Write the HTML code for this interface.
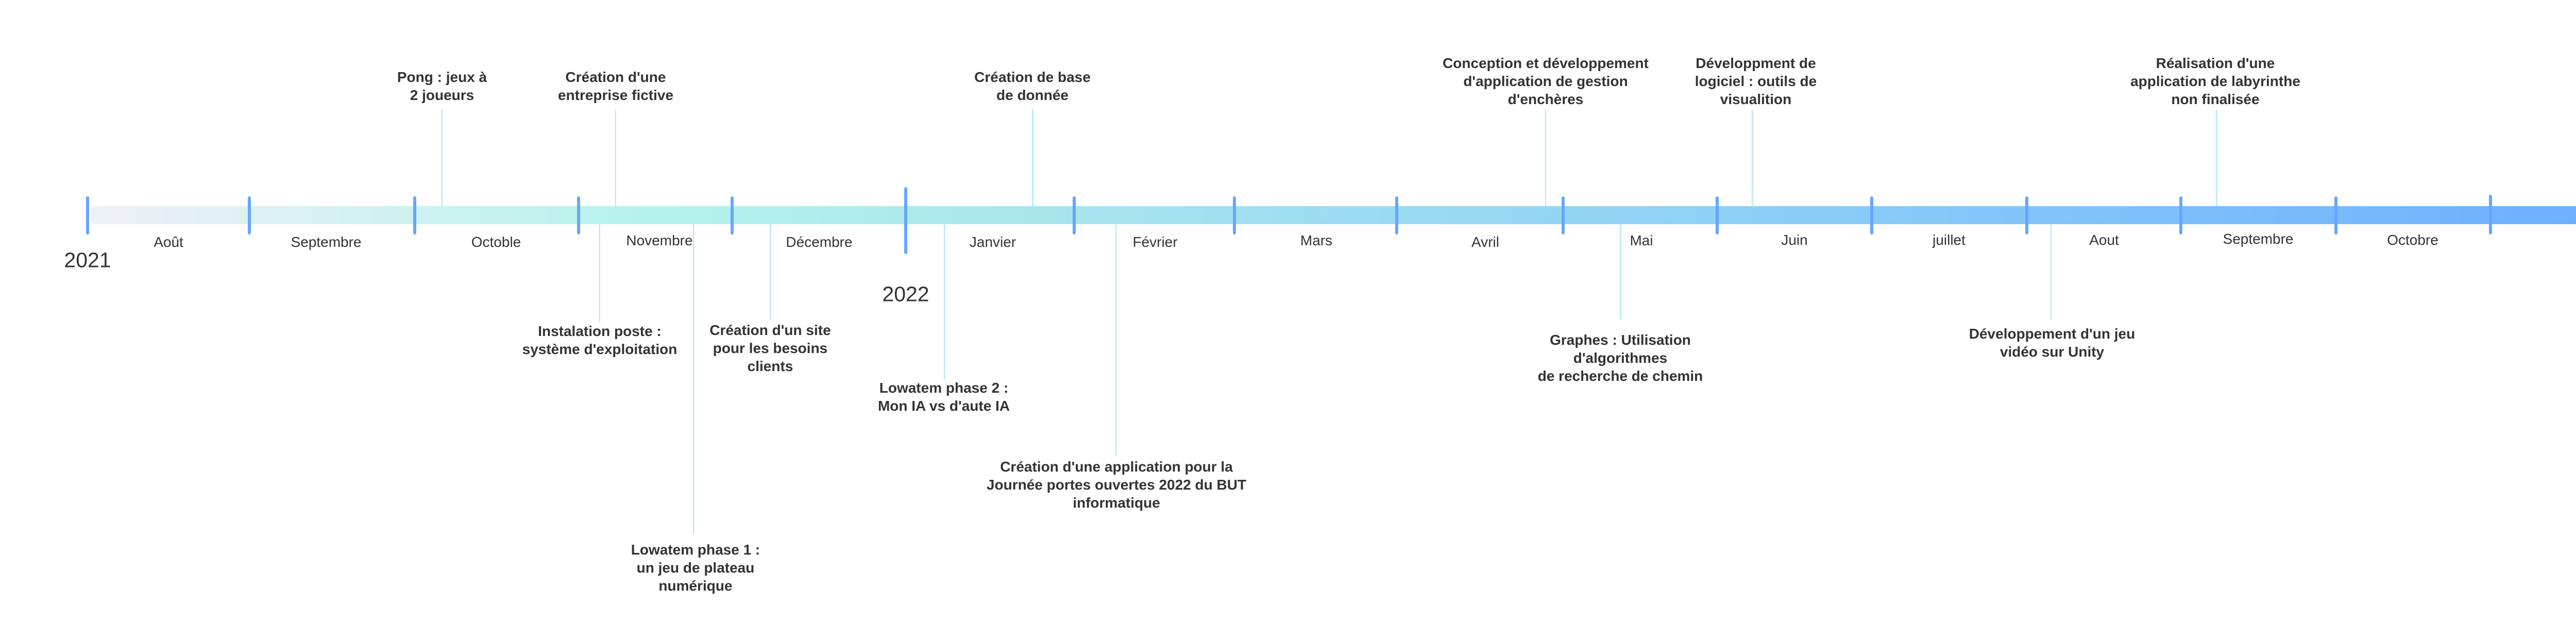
<!DOCTYPE html>
<html><head><meta charset="utf-8">
<style>
html,body{margin:0;padding:0;background:#fff;}
body{width:5132px;height:1236px;position:relative;overflow:hidden;font-family:"Liberation Sans",sans-serif;color:#333;}
.t{position:absolute;transform:translateX(-50%);text-align:center;white-space:nowrap;font-weight:bold;font-size:28px;line-height:35px;}
.m{position:absolute;transform:translate(-50%,-50%);font-size:28px;white-space:nowrap;color:#333;}
.y{position:absolute;transform:translate(-50%,-50%);font-size:41px;color:#333;}
.v{position:absolute;width:2px;background:#aee6f4;}
.k{position:absolute;width:6px;border-radius:3px;background:#66a6ff;}
</style></head><body>
<div style="position:absolute;left:176px;top:400px;width:4843px;height:35px;border-radius:8px;background:linear-gradient(to right,#eef0f5 0%,#b6f2ec 22%,#a8e6ee 38%,#8fd0f6 65%,#6cb0ff 100%);"></div>
<svg style="position:absolute;left:0;top:0" width="5132" height="1236"><path d="M5019,369 L5052,419 L5019,470 Z" fill="#6aaeff" stroke="#6aaeff" stroke-width="4" stroke-linejoin="round"/></svg>

<div class="k" style="left:167px;top:381px;height:74px"></div>
<div class="k" style="left:481px;top:381px;height:74px"></div>
<div class="k" style="left:802px;top:381px;height:74px"></div>
<div class="k" style="left:1120px;top:381px;height:74px"></div>
<div class="k" style="left:1418px;top:381px;height:74px"></div>
<div class="k" style="left:1755px;top:363px;height:130px"></div>
<div class="k" style="left:2082px;top:381px;height:74px"></div>
<div class="k" style="left:2393px;top:381px;height:74px"></div>
<div class="k" style="left:2708px;top:381px;height:74px"></div>
<div class="k" style="left:3031px;top:381px;height:74px"></div>
<div class="k" style="left:3330px;top:381px;height:74px"></div>
<div class="k" style="left:3630px;top:381px;height:74px"></div>
<div class="k" style="left:3931px;top:381px;height:74px"></div>
<div class="k" style="left:4230px;top:381px;height:74px"></div>
<div class="k" style="left:4531px;top:381px;height:74px"></div>
<div class="k" style="left:4831px;top:378px;height:77px"></div>

<div class="y" style="left:170px;top:505px">2021</div>
<div class="y" style="left:1758px;top:571px">2022</div>

<div class="m" style="left:327px;top:470px">Août</div>
<div class="m" style="left:633px;top:470px">Septembre</div>
<div class="m" style="left:963px;top:470px">Octoble</div>
<div class="m" style="left:1280px;top:467px">Novembre</div>
<div class="m" style="left:1590px;top:470px">Décembre</div>
<div class="m" style="left:1927px;top:470px">Janvier</div>
<div class="m" style="left:2242px;top:470px">Février</div>
<div class="m" style="left:2555px;top:467px">Mars</div>
<div class="m" style="left:2883px;top:470px">Avril</div>
<div class="m" style="left:3186px;top:467px">Mai</div>
<div class="m" style="left:3483px;top:466px">Juin</div>
<div class="m" style="left:3783px;top:466px">juillet</div>
<div class="m" style="left:4084px;top:466px">Aout</div>
<div class="m" style="left:4383px;top:464px">Septembre</div>
<div class="m" style="left:4683px;top:466px">Octobre</div>

<div class="v" style="left:857px;top:213px;height:187px"></div>
<div class="v" style="left:1194px;top:213px;height:187px"></div>
<div class="v" style="left:2003px;top:211px;height:189px"></div>
<div class="v" style="left:2999px;top:213px;height:187px"></div>
<div class="v" style="left:3400px;top:213px;height:189px"></div>
<div class="v" style="left:4301px;top:212px;height:188px"></div>
<div class="v" style="left:1163px;top:436px;height:189px"></div>
<div class="v" style="left:1345px;top:434px;height:602px"></div>
<div class="v" style="left:1494px;top:434px;height:186px"></div>
<div class="v" style="left:1832px;top:436px;height:300px"></div>
<div class="v" style="left:2165px;top:436px;height:449px"></div>
<div class="v" style="left:3144px;top:434px;height:186px"></div>
<div class="v" style="left:3980px;top:434px;height:186px"></div>

<div class="t" style="left:858px;top:132px">Pong : jeux à<br>2 joueurs</div>
<div class="t" style="left:1195px;top:132px">Création d'une<br>entreprise fictive</div>
<div class="t" style="left:2004px;top:132px">Création de base<br>de donnée</div>
<div class="t" style="left:3000px;top:105px">Conception et développement<br>d'application de gestion<br>d'enchères</div>
<div class="t" style="left:3408px;top:105px">Développment de<br>logiciel : outils de<br>visualition</div>
<div class="t" style="left:4300px;top:105px">Réalisation d'une<br>application de labyrinthe<br>non finalisée</div>

<div class="t" style="left:1164px;top:625px">Instalation poste :<br>système d'exploitation</div>
<div class="t" style="left:1350px;top:1049px">Lowatem phase 1 :<br>un jeu de plateau<br>numérique</div>
<div class="t" style="left:1495px;top:623px">Création d'un site<br>pour les besoins<br>clients</div>
<div class="t" style="left:1832px;top:735px">Lowatem phase 2 :<br>Mon IA vs d'aute IA</div>
<div class="t" style="left:2167px;top:888px">Création d'une application pour la<br>Journée portes ouvertes 2022 du BUT<br>informatique</div>
<div class="t" style="left:3145px;top:642px">Graphes : Utilisation<br>d'algorithmes<br>de recherche de chemin</div>
<div class="t" style="left:3983px;top:630px">Développement d'un jeu<br>vidéo sur Unity</div>
</body></html>
